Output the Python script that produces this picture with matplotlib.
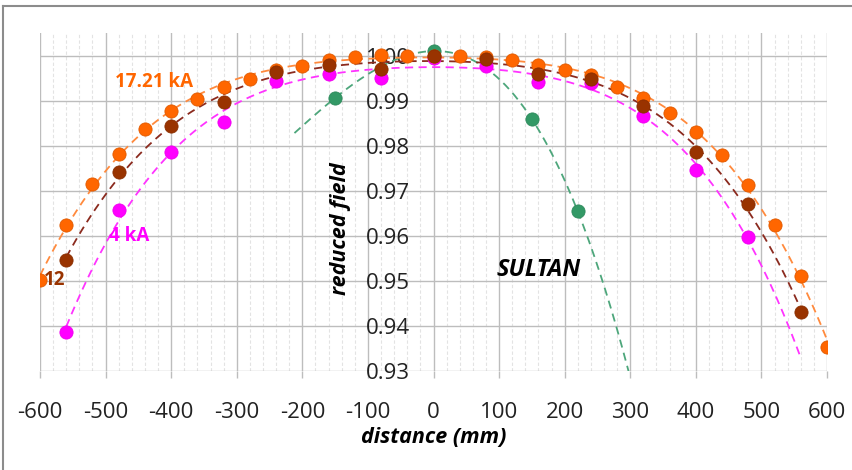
import numpy as np
import matplotlib.pyplot as plt
from matplotlib.ticker import MultipleLocator, FormatStrFormatter
from matplotlib.lines import Line2D

plt.rcParams['font.family'] = ['Open Sans', 'DejaVu Sans']
plt.rcParams['axes.unicode_minus'] = False

# 17.21 kA
x_17 = [-600, -560, -520, -480, -440, -400, -360, -320, -280, -240, -200, -160, -120, -80, -40,
        0, 40, 80, 120, 160, 200, 240, 280, 320, 360, 400, 440, 480, 520, 560, 600]
y_17 = [0.9502, 0.9624, 0.9716, 0.9782, 0.9837, 0.9878, 0.9904, 0.9930, 0.9948, 0.9967, 0.9976,
        0.9990, 0.9997, 1.0002, 1.0000, 1.0000, 1.0000, 0.9997, 0.9990, 0.9980, 0.9967, 0.9956,
        0.9930, 0.9906, 0.9873, 0.9830, 0.9780, 0.9712, 0.9624, 0.9510, 0.9353]

# 12 kA
x_12 = [-560, -480, -400, -320, -240, -160, -80, 0, 80, 160, 240, 320, 400, 480, 560]
y_12 = [0.9547, 0.9742, 0.9843, 0.9898, 0.9963, 0.9980, 0.9970, 1.0000, 0.9993, 0.9958,
        0.9947, 0.9887, 0.9787, 0.9671, 0.9432]

# 4 kA
x_4 = [-560, -480, -400, -320, -240, -160, -80, 0, 80, 160, 240, 320, 400, 480]
y_4 = [0.9386, 0.9658, 0.9786, 0.9852, 0.9943, 0.9960, 0.9950, 0.9995, 0.9976, 0.9942,
       0.9938, 0.9865, 0.9745, 0.9597]

# SULTAN
x_s = [-150, 0, 150, 220]
y_s = [0.9906, 1.0010, 0.9859, 0.9654]

xticks = list(range(-600, 601, 100))
xticklabels = [str(v) for v in xticks]
yticks = [0.93, 0.94, 0.95, 0.96, 0.97, 0.98, 0.99, 1.00]


def trend(ax, x, y, deg, color, lo=None, hi=None, z=2):
    coef = np.polyfit(x, y, deg)
    lo = min(x) if lo is None else lo
    hi = max(x) if hi is None else hi
    xx = np.linspace(lo, hi, 300)
    ax.plot(xx, np.polyval(coef, xx), color=color, lw=1.3,
            linestyle=(0, (4.5, 3)), zorder=z)


fig = plt.figure(figsize=(8.52, 4.70), dpi=100)
ax = fig.add_axes([40 / 852, 1 - 371 / 470, 787 / 852, 338 / 470])

ax.set_xlim(-600, 600)
ax.set_ylim(0.93, 1.005)
ax.set_xticks(xticks)
ax.set_xticklabels(xticklabels)
ax.xaxis.set_minor_locator(MultipleLocator(20))
ax.set_yticks(yticks)
ax.yaxis.set_major_formatter(FormatStrFormatter('%.2f'))

for s in ax.spines.values():
    s.set_visible(False)
ax.spines['left'].set_position(('data', 0))

ax.grid(which='major', axis='both', color='#BDBDBD', lw=1.0, zorder=0)
ax.grid(which='minor', axis='x', color='#E3E3E3', lw=0.8, linestyle=(0, (3, 2)), zorder=0)
ax.set_axisbelow(True)

ax.tick_params(axis='x', which='major', direction='out', length=5, width=1,
               color='#BDBDBD', labelsize=16, pad=17, labelcolor='#222222')
ax.tick_params(axis='x', which='minor', length=0)
ax.tick_params(axis='y', which='major', length=0, labelsize=16, pad=17, labelcolor='#222222')

# trendlines
trend(ax, x_s, y_s, 3, '#4DA67B', lo=-212, hi=300, z=2)
trend(ax, x_4, y_4, 4, '#FF33FF', lo=-560, hi=560, z=2)
trend(ax, x_17, y_17, 4, '#FF8A3D', z=2)
trend(ax, x_12, y_12, 4, '#8B2A1E', z=2)

ms = 9.5
ax.plot(x_s, y_s, 'o', ms=ms, color='#339966', mec='#2E8A5C', mew=0.6, zorder=3)
ax.plot(x_4, y_4, 'o', ms=ms, color='#FF00FF', mec='#EE00EE', mew=0.6, zorder=3)
ax.plot(x_17, y_17, 'o', ms=ms, color='#FF6600', mec='#E05A00', mew=0.6, zorder=3)
ax.plot(x_12, y_12, 'o', ms=ms, color='#993300', mec='#8A2E00', mew=0.6, zorder=3)

# annotations
ax.text(-426, 0.9942, '17.21 kA', color='#FF6600', fontsize=13.5, fontweight='bold',
        ha='center', va='center', zorder=4)
ax.text(-578, 0.9502, '12', color='#993300', fontsize=13.5, fontweight='bold',
        ha='center', va='center', zorder=4)
ax.text(-464, 0.9599, '4 kA', color='#FF00FF', fontsize=13.5, fontweight='bold',
        ha='center', va='center', zorder=4)
ax.text(160, 0.9524, 'SULTAN', color='black', fontsize=17, fontweight='bold',
        fontstyle='italic', ha='center', va='center', zorder=4)
ax.text(-142, 0.9616, 'reduced field', color='black', fontsize=15.5, fontweight='bold',
        fontstyle='italic', rotation=90, ha='center', va='center', zorder=4)

ax.set_xlabel('distance (mm)', fontsize=15.5, fontweight='bold', fontstyle='italic', labelpad=3)

# outer frame (left and top edges visible)
fig.add_artist(Line2D([3 / 852, 3 / 852], [0, 1 - 6 / 470], color='#8C8C8C', lw=1.5))
fig.add_artist(Line2D([3 / 852, 1], [1 - 6 / 470, 1 - 6 / 470], color='#8C8C8C', lw=1.5))

fig.savefig('out.png', dpi=100)
